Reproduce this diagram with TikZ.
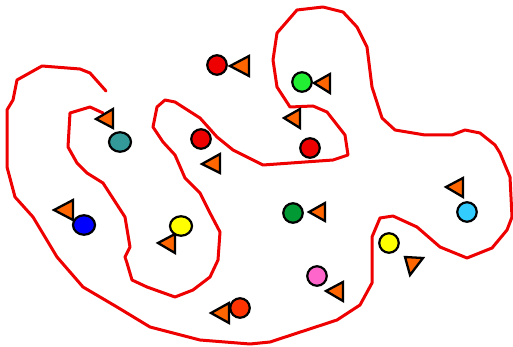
\documentclass[tikz,border=0pt]{standalone}
\usetikzlibrary{shapes.geometric}
\definecolor{cred}{HTML}{EE0000}
\definecolor{cgreen}{HTML}{22EE33}
\definecolor{cteal}{HTML}{339999}
\definecolor{cblue}{HTML}{0000FF}
\definecolor{cyellow}{HTML}{FFFF00}
\definecolor{cdgreen}{HTML}{009933}
\definecolor{ccyan}{HTML}{33CCFF}
\definecolor{cpink}{HTML}{FF66CC}
\definecolor{corred}{HTML}{FF3300}
\definecolor{ctri}{HTML}{FF6600}
\definecolor{cline}{HTML}{EE0000}
\tikzset{
  dot/.style={circle, draw=black, line width=2.2pt, minimum size=19.5pt, inner sep=0pt},
  oval/.style={ellipse, draw=black, line width=2.2pt, minimum width=22pt, minimum height=19.5pt, inner sep=0pt},
  tri/.style={draw=black, fill=ctri, line width=2.3pt, line join=miter},
  curve/.style={draw=cline, line width=3pt, line join=round, line cap=round}
}
\begin{document}
\begin{tikzpicture}[x=1pt,y=-1pt]
\useasboundingbox (0,0) rectangle (513,347);
\draw[curve] (103,113) -- (90,107) -- (70,113) -- (68,147) -- (77,163) -- (87,173) -- (103,183) -- (125,217) -- (130,247) -- (125,257) -- (127,263) -- (132,280) -- (147,287) -- (175,297) -- (193,290) -- (210,277) -- (218,260) -- (220,232) -- (210,213) -- (200,193) -- (185,178) -- (175,155) -- (163,142) -- (153,127) -- (157,107) -- (165,100) -- (175,102) -- (200,118) -- (217,137) -- (233,150) -- (247,157) -- (263,165) -- (333,160) -- (348,155) -- (345,135) -- (327,112) -- (313,106) -- (290,107) -- (277,87) -- (273,60) -- (277,33) -- (297,10) -- (323,7) -- (343,12) -- (357,27) -- (367,47) -- (372,87) -- (382,118) -- (395,130) -- (425,135) -- (452,135) -- (465,130) -- (480,133) -- (495,145) -- (500,153) -- (510,177) -- (512,217) -- (507,230) -- (492,248) -- (467,258) -- (440,247) -- (417,227) -- (393,216) -- (380,218) -- (372,237) -- (372,283) -- (360,305) -- (337,320) -- (270,342) -- (250,344) -- (200,340) -- (150,327) -- (117,307) -- (83,287) -- (57,257) -- (33,217) -- (15,197) -- (7,167) -- (7,110) -- (13,100) -- (17,80) -- (42,66) -- (80,69) -- (90,73) -- (98,82) -- (106,91);
% triangles
\draw[tri] (230,66) -- (249,56) -- (249,76) -- cycle;
\draw[tri] (314,83) -- (330,74) -- (330,93) -- cycle;
\draw[tri] (96,119) -- (113,109) -- (113,128) -- cycle;
\draw[tri] (202,164) -- (220,154) -- (220,173) -- cycle;
\draw[tri] (284,118) -- (300,109) -- (300,128) -- cycle;
\draw[tri] (54,210) -- (73,200) -- (73,220) -- cycle;
\draw[tri] (158,243) -- (175,234) -- (175,253) -- cycle;
\draw[tri] (309,212) -- (325,203) -- (325,221) -- cycle;
\draw[tri] (410,275) -- (405,257) -- (423,258) -- cycle;
\draw[tri] (446,187) -- (463,178) -- (463,197) -- cycle;
\draw[tri] (326,291) -- (343,282) -- (343,301) -- cycle;
\draw[tri] (211,313) -- (229,303) -- (229,323) -- cycle;
% circles
\node[dot, fill=cred] (r1) at (217,65) {};
\node[dot, fill=cgreen] (g1) at (302,82) {};
\node[oval, fill=cteal] (t1) at (120,142) {};
\node[dot, fill=cred] (r2) at (201,139) {};
\node[dot, fill=cred] (r3) at (310,148) {};
\node[oval, fill=cblue] (b1) at (84,225) {};
\node[oval, fill=cyellow] (y1) at (181,226) {};
\node[dot, fill=cdgreen] (g2) at (293,213) {};
\node[dot, fill=cyellow] (y2) at (389,243) {};
\node[dot, fill=ccyan] (c1) at (467,212) {};
\node[dot, fill=cpink] (p1) at (317,276) {};
\node[dot, fill=corred] (o1) at (240,308) {};
\end{tikzpicture}
\end{document}
